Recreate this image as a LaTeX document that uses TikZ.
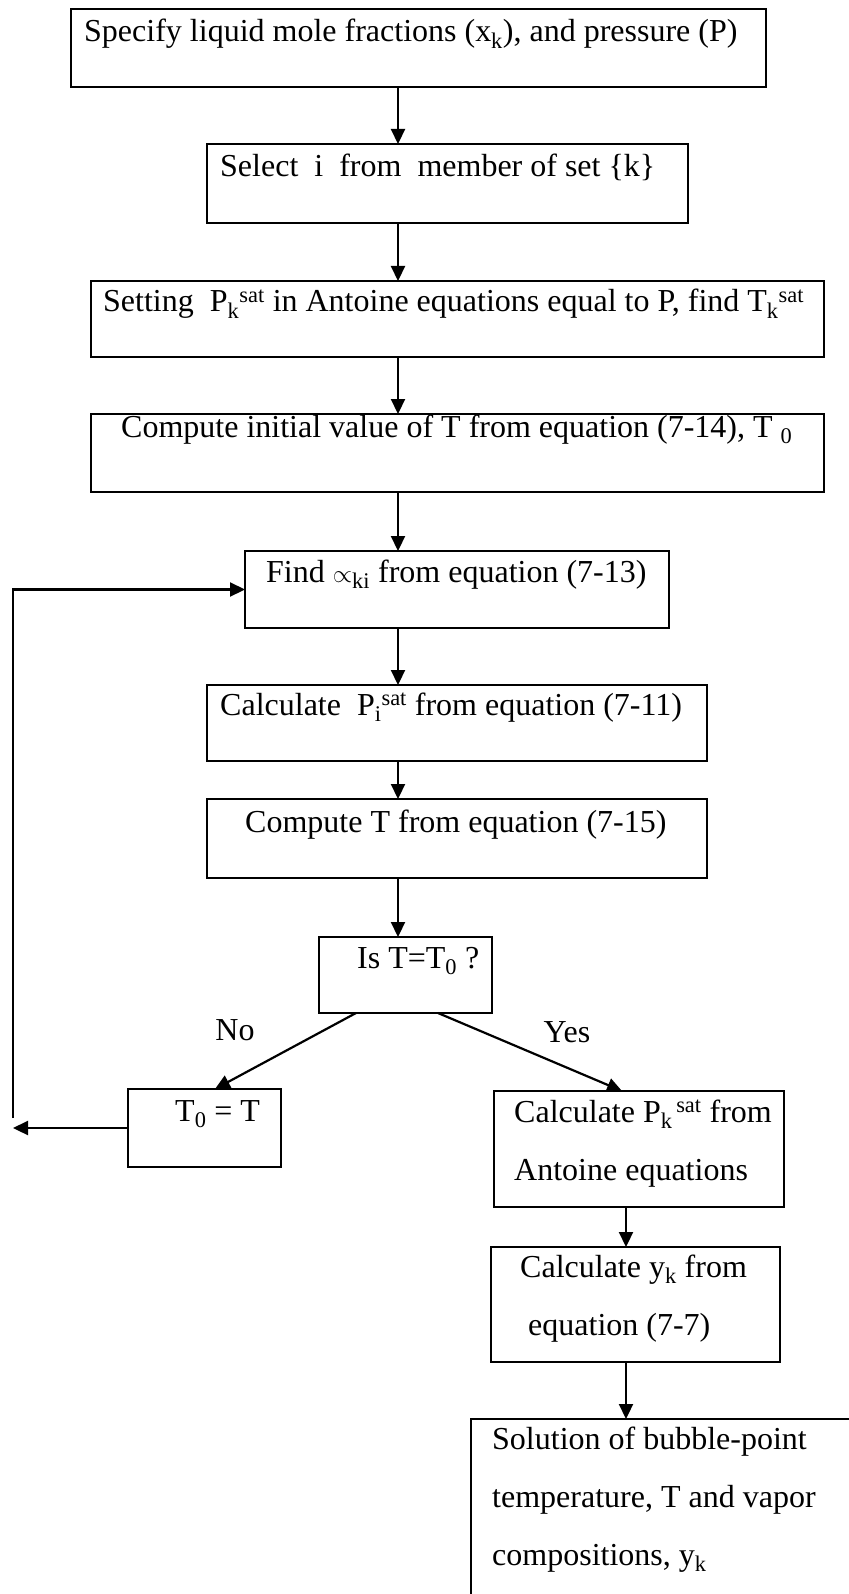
\documentclass[tikz,border=0pt]{standalone}
\usepackage{fontspec}
\setmainfont{Liberation Serif}
\usetikzlibrary{arrows.meta}

\begin{document}
\begin{tikzpicture}[x=1pt, y=-1pt,
    every node/.style={font=\fontsize{32}{58}\selectfont},
    stepbox/.style={draw, line width=2.2pt, anchor=north west, outer sep=0pt, inner sep=0pt},
    steptext/.style={anchor=base west, inner sep=0pt, align=left},
    arr/.style={line width=2.2pt, -{Triangle[length=15pt,width=14pt]}}]
  \useasboundingbox[fill=white] (0,0) rectangle (848,1594);

  % column of arrows
  \coordinate (colm) at (398,0);
  \coordinate (colr) at (626,0);

  % boxes
  \node[stepbox, minimum width=695pt, minimum height=78pt] (spec) at (71,9) {};
  \node[stepbox, minimum width=481pt, minimum height=79pt] (sel) at (207,144) {};
  \node[stepbox, minimum width=733pt, minimum height=76pt] (setp) at (91,281) {};
  \node[stepbox, minimum width=733pt, minimum height=78pt] (init) at (91,414) {};
  \node[stepbox, minimum width=424pt, minimum height=77pt] (find) at (245,551) {};
  \node[stepbox, minimum width=500pt, minimum height=76pt] (calcp) at (207,685) {};
  \node[stepbox, minimum width=500pt, minimum height=79pt] (comp) at (207,799) {};
  \node[stepbox, minimum width=173pt, minimum height=76pt] (test) at (319,937) {};
  \node[stepbox, minimum width=153pt, minimum height=78pt] (reset) at (128,1089) {};
  \node[stepbox, minimum width=290pt, minimum height=116pt] (antoine) at (494,1091) {};
  \node[stepbox, minimum width=289pt, minimum height=115pt] (calcy) at (491,1247) {};
  \node[stepbox, minimum width=500pt, minimum height=300pt] (sol) at (471,1419) {};

  % texts (multi-line ones sit on their last baseline)
  \node[steptext] (t1) at (84,42) {Specify liquid mole fractions (x\textsubscript{k}), and pressure (P)};
  \node[steptext] (t2) at (220,177) {Select\ \ i\ \ from\ \ member of set \{k\}};
  \node[steptext] (t3) at (103,312) {Setting\ \ P\textsubscript{k}\textsuperscript{sat} in Antoine equations equal to P, find T\textsubscript{k}\textsuperscript{sat}};
  \node[steptext] (t4) at (121,437) {Compute initial value of T from equation (7-14), T\ \textsubscript{0}};
  \node[steptext] (t5) at (266,582) {Find \ensuremath{\propto}\textsubscript{ki} from equation (7-13)};
  \node[steptext] (t6) at (220,715) {Calculate\ \ P\textsubscript{i}\textsuperscript{sat} from equation (7-11)};
  \node[steptext] (t7) at (245,832) {Compute T from equation (7-15)};
  \node[steptext] (t8) at (357,968) {Is T=T\textsubscript{0} ?};
  \node[steptext] (t9) at (175,1121) {T\textsubscript{0} = T};
  \node[steptext] (t10) at (514,1180) {Calculate P\textsubscript{k}\textsuperscript{\,sat} from\\Antoine equations};
  \node[steptext] (t11) at (520,1335) {Calculate y\textsubscript{k} from\\\hspace*{8pt}equation (7-7)};
  \node[steptext] (t12) at (492,1565) {Solution of bubble-point\\temperature, T and vapor\\compositions, y\textsubscript{k}};

  % labels on the branches
  \node (no) at (235,1030) {No};
  \node (yes) at (567,1032) {Yes};

  % connectors
  \draw[arr] (spec.south -| colm) -- (sel.north -| colm);
  \draw[arr] (sel.south -| colm) -- (setp.north -| colm);
  \draw[arr] (setp.south -| colm) -- (init.north -| colm);
  \draw[arr] (init.south -| colm) -- (find.north -| colm);
  \draw[arr] (find.south -| colm) -- (calcp.north -| colm);
  \draw[arr] (calcp.south -| colm) -- (comp.north -| colm);
  \draw[arr] (comp.south -| colm) -- (test.north -| colm);
  \draw[arr] ([xshift=37pt]test.south west) -- ([xshift=87pt]reset.north west);
  \draw[arr] ([xshift=119pt]test.south west) -- ([xshift=128pt]antoine.north west);
  \draw[arr] (antoine.south -| colr) -- (calcy.north -| colr);
  \draw[arr] (calcy.south -| colr) -- (sol.north -| colr);

  % loop back
  \coordinate (loopend) at (13,0);
  \coordinate (loopstart) at (13,1118);
  \draw[arr] (reset.west) -- (reset.west -| loopend);
  \draw[arr] (loopstart) |- (find.west);
\end{tikzpicture}
\end{document}
